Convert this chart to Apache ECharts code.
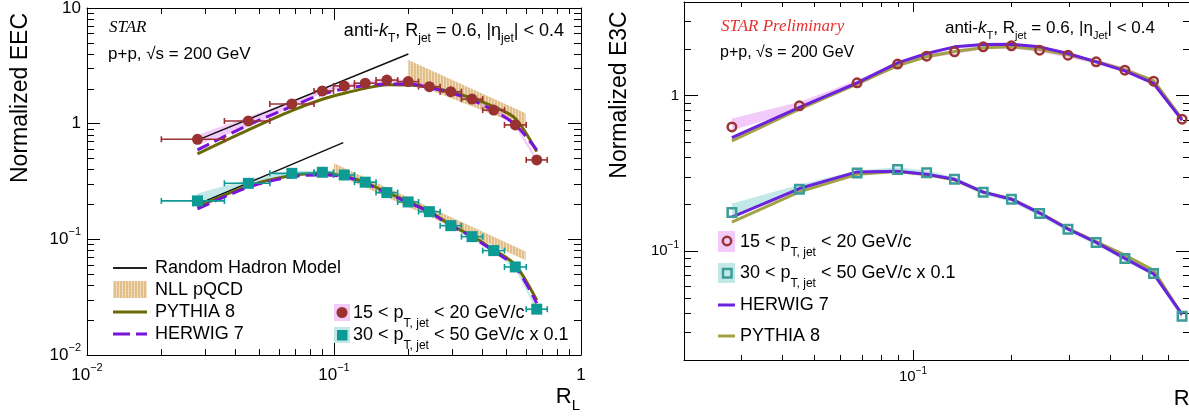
<!DOCTYPE html>
<html><head><meta charset="utf-8">
<script src="https://cdn.jsdelivr.net/npm/echarts@6/dist/echarts.min.js"></script>
<style>html,body{margin:0;padding:0;background:#fff;overflow:hidden}#c{width:1189px;height:419px}</style>
</head><body><div id="c"></div>
<script>
// ---------------- data ----------------
const rL    = [0.028,0.045,0.0675,0.0897,0.11,0.1338,0.1637,0.1996,0.2433,0.297,0.362,0.443,0.542,0.662];
const binLo = [0.02,0.036,0.055,0.083,0.0995,0.121,0.148,0.181,0.22,0.269,0.328,0.40,0.49,0.60];
const binHi = [0.036,0.055,0.083,0.0995,0.121,0.148,0.181,0.22,0.269,0.328,0.40,0.49,0.60,0.73];

// EEC (left panel)
const eecLow  = [0.733,1.055,1.48,1.92,2.12,2.24,2.38,2.31,2.09,1.89,1.63,1.31,0.975,0.486];
const eecLowSysLo = [0.655,0.94,1.38,1.84,2.04,2.16,2.30,2.23,2.02,1.82,1.57,1.26,0.935,0.466];
const eecLowSysHi = [0.80,1.15,1.58,2.0,2.2,2.32,2.46,2.39,2.16,1.96,1.69,1.36,1.015,0.506];
const eecHigh = [0.215,0.305,0.372,0.380,0.360,0.312,0.2535,0.2105,0.1735,0.1313,0.1055,0.0799,0.0577,0.0249];
const eecHighSysLo = [0.198,0.28,0.355,0.366,0.346,0.30,0.244,0.202,0.167,0.126,0.101,0.0767,0.0554,0.0239];
const eecHighSysHi = [0.249,0.33,0.39,0.394,0.374,0.324,0.263,0.219,0.180,0.1366,0.1097,0.0831,0.060,0.0259];
const pythiaEECLow  = [0.547,0.882,1.295,1.625,1.83,2.02,2.17,2.16,2.07,1.89,1.66,1.40,1.11,0.573];
const herwigEECLow  = [0.593,0.974,1.41,1.80,2.0,2.13,2.2,2.2,2.05,1.85,1.6,1.3,0.98,0.593];
const pythiaEECHigh = [0.19,0.29,0.357,0.37,0.352,0.31,0.255,0.212,0.175,0.133,0.107,0.0815,0.060,0.0297];
const herwigEECHigh = [0.183,0.282,0.348,0.36,0.348,0.305,0.25,0.208,0.172,0.131,0.105,0.079,0.058,0.028];
const rhmX1 = [0.028,0.2],   rhmY1 = [0.72,4.0];
const rhmX2 = [0.0283,0.109], rhmY2 = [0.2025,0.685];
const nllX1 = [0.2,0.597], nllTop1 = [3.55,1.23],  nllBot1 = [2.31,0.93];
const nllX2 = [0.1,0.597], nllTop2 = [0.455,0.0783], nllBot2 = [0.3726,0.0659];

// E3C (right panel)
const e3cLow  = [0.630,0.860,1.209,1.595,1.795,1.913,2.06,2.09,1.962,1.822,1.650,1.459,1.239,0.706];
const e3cLowSysLo = [0.60,0.807,1.16,1.54,1.735,1.85,1.99,2.02,1.90,1.76,1.595,1.41,1.20,0.68];
const e3cLowSysHi = [0.714,0.912,1.26,1.65,1.855,1.975,2.13,2.16,2.025,1.885,1.705,1.51,1.28,0.73];
const e3cHigh = [0.1774,0.2505,0.3188,0.335,0.319,0.2904,0.2395,0.216,0.1747,0.1385,0.1138,0.0898,0.0719,0.0382];
const e3cHighSysLo = [0.166,0.238,0.307,0.323,0.308,0.28,0.231,0.208,0.168,0.1335,0.1097,0.0866,0.0693,0.0368];
const e3cHighSysHi = [0.203,0.268,0.331,0.347,0.33,0.30,0.248,0.224,0.181,0.1435,0.118,0.093,0.0745,0.0396];
const herwigE3CLow  = [0.538,0.84,1.21,1.625,1.868,2.06,2.135,2.14,2.06,1.868,1.65,1.443,1.198,0.696];
const pythiaE3CLow  = [0.512,0.82,1.19,1.56,1.78,1.92,2.03,2.06,1.98,1.83,1.66,1.47,1.25,0.71];
const herwigE3CHigh = [0.166,0.2531,0.3237,0.3265,0.3127,0.29,0.24,0.216,0.176,0.139,0.114,0.09,0.0715,0.0393];
const pythiaE3CHigh = [0.154,0.241,0.3127,0.325,0.31,0.288,0.24,0.217,0.177,0.14,0.1155,0.0945,0.0755,0.039];

// ticks
const leftXMajor = [0.01,0.1,1];
const leftXMinor = [0.02,0.03,0.04,0.05,0.06,0.07,0.08,0.09,0.2,0.3,0.4,0.5,0.6,0.7,0.8,0.9];
const leftYMajor = [0.01,0.1,1,10];
const leftYMinor = [0.02,0.03,0.04,0.05,0.06,0.07,0.08,0.09,0.2,0.3,0.4,0.5,0.6,0.7,0.8,0.9,2,3,4,5,6,7,8,9];
const rightXMajor = [0.1];
const rightXMinor = [0.02,0.03,0.04,0.05,0.06,0.07,0.08,0.09,0.2,0.3,0.4,0.5,0.6,0.7];
const rightYMajor = [0.1,1];
const rightYMinor = [0.02,0.03,0.04,0.05,0.06,0.07,0.08,0.09,0.2,0.3,0.4,0.5,0.6,0.7,0.8,0.9,2,3,4];

// ---------------- style ----------------
const FONT = "'Liberation Sans', Arial, Helvetica, sans-serif";
const SERIF = "'Liberation Serif', 'Times New Roman', serif";
const RED = '#9b3232', TEAL = '#0d9a95';
const OLIVE_L = '#6b6b06', PURPLE_L = '#7a12da';
const OLIVE_R = '#a2a246', PURPLE_R = '#6a22dc';
const RED_R = '#9b3535', TEAL_R = '#3c9c99';
const PINK = 'rgba(226,130,242,0.42)', CYANB = 'rgba(110,200,200,0.42)';

const tanCanvas = document.createElement('canvas');
tanCanvas.width = 3; tanCanvas.height = 3;
(function(){const c=tanCanvas.getContext('2d');c.fillStyle='#e2c18c';c.fillRect(0,0,3,3);c.fillStyle='#f0deBF';c.fillRect(2,0,1,3);c.fillStyle='#dcb880';c.fillRect(0,1,1,1);})();
const TAN = {image: tanCanvas, repeat: 'repeat'};

function fmtLog(v){
  const e = Math.round(Math.log10(v));
  if (e === 0) return '{b|1}';
  if (e === 1) return '{b|10}';
  return '{b|10}{s|\u2212' + (-e) + '}';
}
// superscript: base centred in line, sup aligned to line top
function richSup(fs, sfs, lh){
  return { b:{fontSize:fs, fontFamily:FONT, color:'#000', lineHeight:lh},
           s:{fontSize:sfs, fontFamily:FONT, color:'#000', verticalAlign:'top'} };
}

function axes(dim, grid, min, max, majors, minors, o){
  const common = {type:'log', logBase:10, gridIndex:grid, min:min, max:max, splitLine:{show:false}, axisPointer:{show:false}, silent:true};
  const pA = dim==='x' ? 'bottom' : 'left', pB = dim==='x' ? 'top' : 'right';
  const line = {show:true, onZero:false, lineStyle:{color:'#000', width:1}};
  const maj = {show:true, inside:true, length:o.major, customValues:majors, lineStyle:{color:'#000', width:1}};
  const mnr = {show:true, inside:true, length:o.minor, customValues:minors, lineStyle:{color:'#000', width:1}};
  return [
    Object.assign({}, common, {position:pA, axisLine:line, axisTick:maj,
      axisLabel:{show:true, customValues:majors, formatter:fmtLog, rich:o.rich, margin:o.margin, color:'#000'}}),
    Object.assign({}, common, {position:pA, axisLine:{show:false}, axisTick:mnr, axisLabel:{show:false}}),
    Object.assign({}, common, {position:pB, axisLine:line, axisTick:maj, axisLabel:{show:false}}),
    Object.assign({}, common, {position:pB, axisLine:{show:false}, axisTick:mnr, axisLabel:{show:false}})
  ];
}

function band(xs, lo, hi, fill, ai, z){
  return {type:'custom', xAxisIndex:ai, yAxisIndex:ai, z:z, silent:true,
    data: xs.map((x,i)=>[x, lo[i], hi[i]]),
    encode:{x:0, y:[1,2]},
    renderItem:(params, api)=>{
      if (params.dataIndex !== 0) return {type:'group', children:[]};
      const top = xs.map((x,i)=>api.coord([x, hi[i]]));
      const bot = xs.map((x,i)=>api.coord([x, lo[i]])).reverse();
      return {type:'polygon', shape:{points: top.concat(bot)}, style:{fill:fill}};
    }};
}
function curve(xs, ys, color, width, dash, ai, z, smooth){
  return {type:'line', xAxisIndex:ai, yAxisIndex:ai, z:z, silent:true, symbol:'none', showSymbol:false,
    smooth: smooth || false, data: xs.map((x,i)=>[x, ys[i]]),
    lineStyle:{color:color, width:width, type:dash || 'solid', cap:'butt'}};
}
function errbars(xs, ys, lo, hi, color, ai, z){
  return {type:'custom', xAxisIndex:ai, yAxisIndex:ai, z:z, silent:true,
    data: xs.map((x,i)=>[x, ys[i], lo[i], hi[i]]),
    encode:{x:[0,2,3], y:1},
    renderItem:(params, api)=>{
      const y = api.value(1);
      const a = api.coord([api.value(2), y]), b = api.coord([api.value(3), y]);
      const st = {stroke:color, lineWidth:1.6};
      return {type:'group', children:[
        {type:'line', shape:{x1:a[0], y1:a[1], x2:b[0], y2:b[1]}, style:st},
        {type:'line', shape:{x1:a[0], y1:a[1]-3, x2:a[0], y2:a[1]+3}, style:st},
        {type:'line', shape:{x1:b[0], y1:b[1]-3, x2:b[0], y2:b[1]+3}, style:st}
      ]};
    }};
}
function markers(xs, ys, symbol, size, fill, stroke, bw, ai, z){
  return {type:'scatter', xAxisIndex:ai, yAxisIndex:ai, z:z, silent:true, symbol:symbol, symbolSize:size,
    data: xs.map((x,i)=>[x, ys[i]]),
    itemStyle:{color:fill, borderColor:stroke || fill, borderWidth:bw || 0, opacity:1}};
}

// subscript: base centred in a line of height L, sub aligned to line bottom
function subRich(fs, sfs, L){
  return {
    _L: L,
    b:{fontSize:fs, fontFamily:FONT, color:'#000', lineHeight:L},
    k:{fontSize:fs, fontFamily:FONT, fontStyle:'italic', color:'#000', lineHeight:L},
    s:{fontSize:sfs, fontFamily:FONT, color:'#000', verticalAlign:'bottom'}
  };
}
function T(x, y, text, rich, align){
  const L = rich._L;
  const r = Object.assign({}, rich); delete r._L;
  return {type:'text', x:x, y:y - L/2, z:100, silent:true,
    style:{text:text, rich:r, align:align||'left', textAlign:align||'left', verticalAlign:'top', textVerticalAlign:'top', fill:'#000'}};
}

const chart = echarts.init(document.getElementById('c'), null, {renderer:'canvas'});

const xA = [].concat(
  axes('x', 0, 0.01, 1, leftXMajor, leftXMinor, {major:12, minor:6, margin:7, rich:richSup(17,11,26)}),
  axes('x', 1, 0.02, 0.7, rightXMajor, rightXMinor, {major:10, minor:5, margin:6, rich:richSup(15,10,22)})
);
const yA = [].concat(
  axes('y', 0, 0.01, 10, leftYMajor, leftYMinor, {major:13, minor:7, margin:6, rich:richSup(17,11,26)}),
  axes('y', 1, 0.02, 4, rightYMajor, rightYMinor, {major:14, minor:7, margin:5, rich:richSup(15,10,22)})
);

const legR = subRich(18, 12, 34);   // sub offset ~11px
const hdrL = subRich(18, 12, 28);   // sub offset ~8px
const hdrR = subRich(17, 11, 27);
const ppL  = subRich(17, 11, 24);
const ppR  = subRich(16, 11, 24);
const rlR  = subRich(22, 15, 32);

const option = {
  animation:false,
  backgroundColor:'#fff',
  grid:[
    {left:87, top:8, width:494, height:347, containLabel:false, outerBoundsMode:'none'},
    {left:684, top:2, width:506, height:358, containLabel:false, outerBoundsMode:'none'}
  ],
  xAxis: xA,
  yAxis: yA,
  series:[
    band(nllX1, nllBot1, nllTop1, TAN, 0, 1),
    band(nllX2, nllBot2, nllTop2, TAN, 0, 1),
    band(rL, eecLowSysLo, eecLowSysHi, PINK, 0, 2),
    band(rL, eecHighSysLo, eecHighSysHi, CYANB, 0, 2),
    curve(rhmX1, rhmY1, '#111', 1.5, 'solid', 0, 3),
    curve(rhmX2, rhmY2, '#111', 1.5, 'solid', 0, 3),
    curve(rL, pythiaEECLow, OLIVE_L, 3, 'solid', 0, 4, 0.3),
    curve(rL, pythiaEECHigh, OLIVE_L, 3, 'solid', 0, 4, 0.3),
    curve(rL, herwigEECLow, PURPLE_L, 3, [13,6], 0, 5, 0.3),
    curve(rL, herwigEECHigh, PURPLE_L, 3, [13,6], 0, 5, 0.3),
    errbars(rL, eecLow, binLo, binHi, RED, 0, 6),
    errbars(rL, eecHigh, binLo, binHi, TEAL, 0, 6),
    markers(rL, eecLow, 'circle', 11, RED, null, 0, 0, 7),
    markers(rL, eecHigh, 'rect', 11, TEAL, null, 0, 0, 7),

    band(rL, e3cLowSysLo, e3cLowSysHi, PINK, 4, 2),
    band(rL, e3cHighSysLo, e3cHighSysHi, CYANB, 4, 2),
    curve(rL, pythiaE3CLow, OLIVE_R, 3, 'solid', 4, 4),
    curve(rL, pythiaE3CHigh, OLIVE_R, 3, 'solid', 4, 4),
    curve(rL, herwigE3CLow, PURPLE_R, 3, 'solid', 4, 5),
    curve(rL, herwigE3CHigh, PURPLE_R, 3, 'solid', 4, 5),
    markers(rL, e3cLow, 'circle', 8.5, 'rgba(0,0,0,0)', RED_R, 2.5, 4, 7),
    markers(rL, e3cHigh, 'rect', 8.5, 'rgba(0,0,0,0)', TEAL_R, 2.5, 4, 7)
  ],
  graphic:[
    // axis titles
    {type:'text', x:21, y:98, rotation:Math.PI/2, z:100, silent:true,
      style:{text:'Normalized EEC', font:'23px '+FONT, fill:'#000', align:'center', textAlign:'center', verticalAlign:'middle', textVerticalAlign:'middle'}},
    {type:'text', x:620, y:95, rotation:Math.PI/2, z:100, silent:true,
      style:{text:'Normalized E3C', font:'23px '+FONT, fill:'#000', align:'center', textAlign:'center', verticalAlign:'middle', textVerticalAlign:'middle'}},
    T(580, 397, '{b|R}{s|L}', rlR, 'right'),
    T(1198, 399, '{b|R}{s|L}', rlR, 'right'),

    // left header texts
    {type:'text', x:109, y:28, z:100, silent:true, style:{text:'STAR', font:'italic 17px '+SERIF, fill:'#000', verticalAlign:'middle', textVerticalAlign:'middle'}},
    T(108, 54, '{b|p+p, \u221As = 200 GeV}', ppL),
    T(564, 31, '{b|anti-}{k|k}{s|T}{b|, R}{s|jet}{b| = 0.6, |\u03B7}{s|jet}{b|| < 0.4}', hdrL, 'right'),
    // right header texts
    {type:'text', x:721, y:27, z:100, silent:true, style:{text:'STAR Preliminary', font:'italic 17px '+SERIF, fill:'#e8302e', verticalAlign:'middle', textVerticalAlign:'middle'}},
    T(720, 53, '{b|p+p, \u221As = 200 GeV}', ppR),
    T(1155, 28, '{b|anti-}{k|k}{s|T}{b|, R}{s|jet}{b| = 0.6, |\u03B7}{s|Jet}{b|| < 0.4}', hdrR, 'right'),

    // left legend (models)
    {type:'line', z:100, silent:true, shape:{x1:113, y1:268, x2:147, y2:268}, style:{stroke:'#222', lineWidth:2}},
    {type:'rect', z:100, silent:true, shape:{x:113, y:281, width:34, height:17}, style:{fill:TAN}},
    {type:'line', z:100, silent:true, shape:{x1:113, y1:312, x2:147, y2:312}, style:{stroke:OLIVE_L, lineWidth:3}},
    {type:'line', z:100, silent:true, shape:{x1:113, y1:334, x2:147, y2:334}, style:{stroke:PURPLE_L, lineWidth:3, lineDash:[17,6]}},
    T(155, 268, '{b|Random Hadron Model}', legR),
    T(155, 290, '{b|NLL pQCD}', legR),
    T(155, 312, '{b|PYTHIA 8}', legR),
    T(155, 334, '{b|HERWIG 7}', legR),
    // left legend (data)
    {type:'rect', z:100, silent:true, shape:{x:334, y:304, width:16, height:17}, style:{fill:PINK}},
    {type:'circle', z:101, silent:true, shape:{cx:342, cy:312.5, r:5.5}, style:{fill:RED}},
    {type:'rect', z:100, silent:true, shape:{x:334, y:327, width:16, height:16}, style:{fill:CYANB}},
    {type:'rect', z:101, silent:true, shape:{x:337, y:330, width:10.5, height:10.5}, style:{fill:TEAL}},
    T(353, 313, '{b|15 < p}{s|T, jet}{b| < 20 GeV/c}', legR),
    T(353, 335, '{b|30 < p}{s|T, jet}{b| < 50 GeV/c x 0.1}', legR),

    // right legend
    {type:'rect', z:100, silent:true, shape:{x:718, y:231, width:17, height:21}, style:{fill:PINK}},
    {type:'circle', z:101, silent:true, shape:{cx:727, cy:241, r:4.2}, style:{fill:'none', stroke:RED_R, lineWidth:2.5}},
    {type:'rect', z:100, silent:true, shape:{x:718, y:263, width:17, height:20}, style:{fill:CYANB}},
    {type:'rect', z:101, silent:true, shape:{x:723, y:269, width:8.5, height:8.5}, style:{fill:'none', stroke:TEAL_R, lineWidth:2.5}},
    {type:'line', z:100, silent:true, shape:{x1:718, y1:305, x2:735, y2:305}, style:{stroke:PURPLE_R, lineWidth:3}},
    {type:'line', z:100, silent:true, shape:{x1:718, y1:336, x2:735, y2:336}, style:{stroke:OLIVE_R, lineWidth:3}},
    T(740, 242, '{b|15 < p}{s|T, jet}{b| < 20 GeV/c}', legR),
    T(740, 273, '{b|30 < p}{s|T, jet}{b| < 50 GeV/c x 0.1}', legR),
    T(740, 305, '{b|HERWIG 7}', legR),
    T(740, 336, '{b|PYTHIA 8}', legR)
  ]
};
chart.setOption(option);
</script>
</body></html>
